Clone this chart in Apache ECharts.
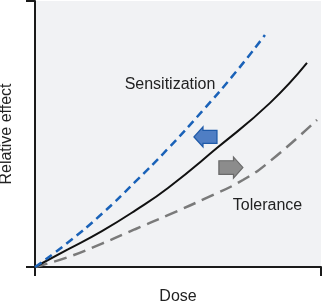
<!DOCTYPE html>
<html><head><meta charset="utf-8">
<script src="https://cdn.jsdelivr.net/npm/echarts@6/dist/echarts.min.js"></script>
<style>html,body{margin:0;padding:0;background:#fff}#c{width:323px;height:305px}</style>
</head><body><div id="c"></div>
<script>
// Dose (x) / relative effect (y) readings, arbitrary units 0..10
const sensX = [0, 1.15, 2.34, 3.50, 4.65, 5.84, 7.00, 8.04];
const sensY = [0, 0.92, 2.00, 3.20, 4.45, 5.85, 7.30, 8.72];
const baseX = [0, 1.15, 2.34, 3.50, 4.65, 6.36, 8.22, 9.51];
const baseY = [0, 0.66, 1.35, 2.12, 2.97, 4.47, 6.17, 7.67];
const tolX  = [0, 1.15, 2.34, 3.50, 4.65, 6.00, 7.27, 8.22, 9.86];
const tolY  = [0, 0.37, 0.88, 1.42, 1.95, 2.60, 3.27, 3.98, 5.53];
const labelSens = {text: 'Sensitization', x: 4.72, y: 6.84};
const labelTol  = {text: 'Tolerance', x: 8.13, y: 2.29};
const arrowSens = {x: 5.96, y: 4.89};
const arrowTol  = {x: 6.85, y: 3.74};

const pairs = (xs, ys) => xs.map((x, i) => [x, ys[i]]);
const arrowLeft = 'path://M0,10 L9,0 L9,3.5 L23,3.5 L23,16.5 L9,16.5 L9,20 Z';
const arrowRight = 'path://M23,10 L14,0 L14,3.5 L0,3.5 L0,16.5 L14,16.5 L14,20 Z';
const font = '"Liberation Sans", Arial, Helvetica, sans-serif';

const chart = echarts.init(document.getElementById('c'));
const axisCommon = {
  type: 'value', min: 0, max: 10, interval: 10,
  axisLine: {show: true, lineStyle: {color: '#1a1a1a', width: 2}},
  axisTick: {show: true, length: 9, lineStyle: {color: '#1a1a1a', width: 2}},
  axisLabel: {show: false}, splitLine: {show: false},
  nameLocation: 'middle',
  nameTextStyle: {fontSize: 16, color: '#222', fontFamily: font}
};
const lineCommon = {type: 'line', smooth: 0.5, symbol: 'none'};
chart.setOption({
  animation: false,
  grid: {left: 35, right: 2, top: 1, bottom: 38, show: true, backgroundColor: '#f1f2f4', borderWidth: 0,
         containLabel: false, outerBoundsMode: 'none'},
  xAxis: Object.assign({}, axisCommon, {name: 'Dose', nameGap: 22}),
  yAxis: Object.assign({}, axisCommon, {name: 'Relative effect', nameGap: 20}),
  series: [
    Object.assign({}, lineCommon, {data: pairs(baseX, baseY),
     lineStyle: {color: '#111', width: 2}, z: 3}),
    Object.assign({}, lineCommon, {data: pairs(sensX, sensY),
     lineStyle: {color: '#1a62b8', width: 2.5, type: [8, 5]}, z: 3,
     markPoint: {silent: true, data: [
       {coord: [arrowSens.x, arrowSens.y], symbol: arrowLeft, symbolSize: [23, 20],
        itemStyle: {color: '#4f7ec4', borderColor: '#1f5aa8', borderWidth: 1.2}, label: {show: false}},
       {coord: [labelSens.x, labelSens.y], symbolSize: 0,
        label: {show: true, formatter: labelSens.text, fontSize: 16, color: '#222', fontFamily: font, position: 'inside'}}
     ]}}),
    Object.assign({}, lineCommon, {data: pairs(tolX, tolY),
     lineStyle: {color: '#7a7a7a', width: 2.5, type: [13, 7]}, z: 2,
     markPoint: {silent: true, data: [
       {coord: [arrowTol.x, arrowTol.y], symbol: arrowRight, symbolSize: [24, 21],
        itemStyle: {color: '#8c8c8c', borderColor: '#6a6a6a', borderWidth: 1.2}, label: {show: false}},
       {coord: [labelTol.x, labelTol.y], symbolSize: 0,
        label: {show: true, formatter: labelTol.text, fontSize: 16, color: '#222', fontFamily: font, position: 'inside'}}
     ]}})
  ]
});
</script></body></html>
